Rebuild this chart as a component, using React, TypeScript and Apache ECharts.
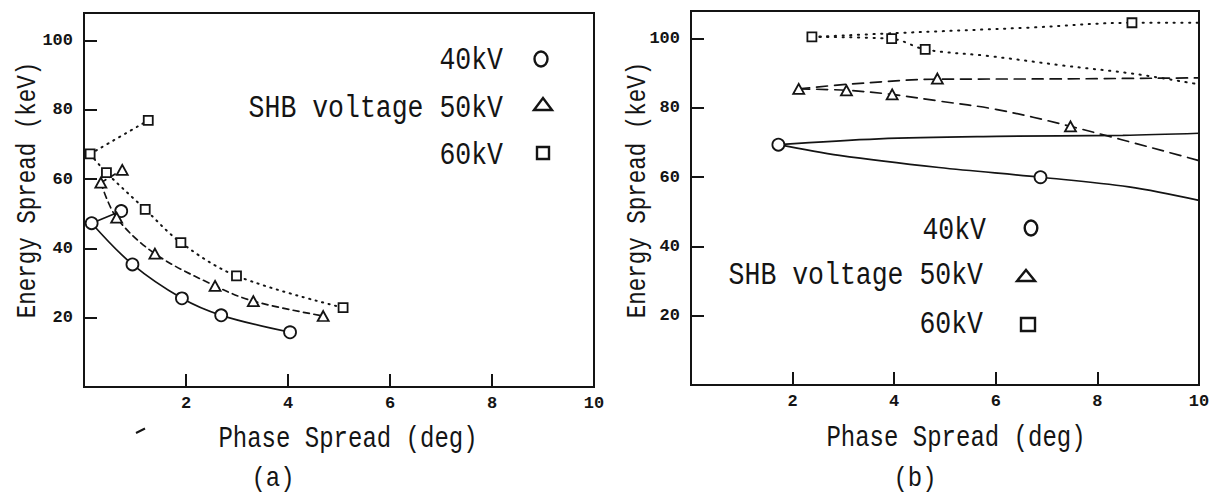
import React, { useEffect, useRef } from 'react';
import * as echarts from 'echarts';

// ---------- axes ----------
const X_MIN = 0;
const X_MAX = 10;
const X_INTERVAL = 2;
const Y_MIN = 0;
const Y_MAX = 108;
const Y_INTERVAL = 20;

// ---------- panel (a) ----------
const a40Markers = [[0.15, 47.3], [0.73, 50.8], [0.95, 35.4], [1.92, 25.6], [2.69, 20.7], [4.04, 15.8]];
const a40Upper = [[0.15, 47.3], [0.73, 50.8]];
const a40Lower = [[0.15, 47.3], [0.95, 35.4], [1.92, 25.6], [2.69, 20.7], [4.04, 15.8]];

const a50Markers = [[0.33, 59.0], [0.75, 62.7], [0.64, 48.9], [1.39, 38.5], [2.57, 29.2], [3.32, 24.8], [4.69, 20.5]];
const a50Upper = [[0.33, 59.0], [0.75, 62.7]];
const a50Lower = [[0.33, 59.0], [0.64, 48.9], [1.39, 38.5], [2.57, 29.2], [3.32, 24.8], [4.69, 20.5]];

const a60Markers = [[0.12, 67.3], [1.26, 77.0], [0.44, 61.9], [1.2, 51.3], [1.9, 41.7], [2.99, 32.1], [5.08, 22.9]];
const a60Upper = [[0.12, 67.3], [1.26, 77.0]];
const a60Lower = [[0.12, 67.3], [0.44, 61.9], [1.2, 51.3], [1.9, 41.7], [2.99, 32.1], [5.08, 22.9]];

// ---------- panel (b) ----------
const b40Markers = [[1.72, 69.4], [6.88, 60.0]];
const b40Upper = [[1.72, 69.4], [3.7, 71.1], [6.02, 71.8], [8.5, 72.1], [10, 72.7]];
const b40Lower = [[1.72, 69.4], [2.92, 66.3], [4.88, 62.8], [6.88, 60.0], [8.62, 57.2], [10, 53.3]];

const b50Markers = [[2.12, 85.5], [3.06, 85.1], [3.96, 83.9], [4.85, 88.5], [7.47, 74.7]];
const b50Upper = [[2.12, 85.5], [3.05, 86.8], [4.85, 88.3], [7.3, 88.4], [10, 88.7]];
const b50Lower = [[2.12, 85.5], [3.06, 85.1], [3.96, 83.9], [4.88, 82.0], [6.0, 79.6], [7.47, 74.7], [10, 64.8]];

const b60Markers = [[2.38, 100.5], [3.95, 100.0], [4.61, 96.9], [8.68, 104.6]];
const b60Upper = [[2.38, 100.5], [4.0, 101.6], [6.65, 103.2], [8.68, 104.6], [10, 104.6]];
const b60Lower = [[2.38, 100.5], [3.95, 100.0], [4.61, 96.9], [5.86, 95.0], [7.3, 92.3], [8.75, 89.8], [10, 86.8]];

// ---------- texts ----------
const legendLabels = ['40kV', 'SHB voltage 50kV', '60kV'];
const xTitle = 'Phase Spread (deg)';
const yTitle = 'Energy Spread (keV)';
const panelLabels = ['(a)', '(b)'];

const INK = '#141414';
const MONO = '"Liberation Mono", "DejaVu Sans Mono", monospace';

function curve(data: number[][], idx: number, dash: any, width = 1.7) {
  return {
    type: 'line',
    xAxisIndex: idx,
    yAxisIndex: idx,
    data,
    smooth: 0.35,
    showSymbol: false,
    symbol: 'none',
    silent: true,
    z: 2,
    lineStyle: { color: INK, width, type: dash, cap: 'round' },
  };
}

function marks(data: number[][], idx: number, symbol: string, size: any) {
  return {
    type: 'scatter',
    xAxisIndex: idx,
    yAxisIndex: idx,
    data,
    symbol,
    symbolSize: size,
    silent: true,
    z: 5,
    itemStyle: { color: '#ffffff', borderColor: INK, borderWidth: 1.8, opacity: 1 },
  };
}

function xAxis(idx: number) {
  return {
    type: 'value',
    gridIndex: idx,
    min: X_MIN,
    max: X_MAX,
    interval: X_INTERVAL,
    axisLine: { show: false },
    splitLine: { show: false },
    axisTick: { show: true, inside: true, length: 13, lineStyle: { color: INK, width: 2 } },
    axisLabel: {
      color: INK,
      fontFamily: MONO,
      fontWeight: 'bold',
      fontSize: 17,
      margin: 8,
      formatter: (v: number) => (v === 0 ? '' : String(v)),
    },
  };
}

function yAxis(idx: number) {
  return {
    type: 'value',
    gridIndex: idx,
    min: Y_MIN,
    max: Y_MAX,
    interval: Y_INTERVAL,
    axisLine: { show: false },
    splitLine: { show: false },
    axisTick: { show: true, inside: true, length: 13, lineStyle: { color: INK, width: 2 } },
    axisLabel: {
      color: INK,
      fontFamily: MONO,
      fontWeight: 'bold',
      fontSize: 17,
      margin: 11,
      formatter: (v: number) => (v > 0 && v % 20 === 0 ? String(v) : ''),
    },
  };
}

function txt(text: string, x: number, y: number, size: number, align = 'center', rotation = 0, sy = 1.2) {
  return {
    type: 'text',
    x,
    y,
    rotation,
    scaleY: sy,
    silent: true,
    z: 10,
    style: {
      text,
      font: `${size}px ${MONO}`,
      fill: INK,
      align,
      verticalAlign: 'middle',
      textAlign: align,
      textVerticalAlign: 'middle',
    },
  };
}

const symStyle = { fill: '#ffffff', stroke: INK, lineWidth: 2.4 };

const option: any = {
  animation: false,
  backgroundColor: '#ffffff',
  grid: [
    { left: 84, top: 13, width: 510, height: 374, show: true, borderColor: INK, borderWidth: 2, backgroundColor: 'transparent' },
    { left: 691, top: 11, width: 508, height: 374, show: true, borderColor: INK, borderWidth: 2, backgroundColor: 'transparent' },
  ],
  xAxis: [xAxis(0), xAxis(1)],
  yAxis: [yAxis(0), yAxis(1)],
  series: [
    curve(a40Upper, 0, 'solid'),
    curve(a40Lower, 0, 'solid'),
    curve(a50Upper, 0, [6, 4.5]),
    curve(a50Lower, 0, [6, 4.5]),
    curve(a60Upper, 0, [1.2, 5.5], 2),
    curve(a60Lower, 0, [1.2, 5.5], 2),
    marks(a40Markers, 0, 'circle', 12),
    marks(a50Markers, 0, 'triangle', [11, 10]),
    marks(a60Markers, 0, 'rect', 9),

    curve(b40Upper, 1, 'solid'),
    curve(b40Lower, 1, 'solid'),
    curve(b50Upper, 1, [11, 7]),
    curve(b50Lower, 1, [11, 7]),
    curve(b60Upper, 1, [1.2, 6.5], 2),
    curve(b60Lower, 1, [1.2, 6.5], 2),
    marks(b40Markers, 1, 'circle', 12),
    marks(b50Markers, 1, 'triangle', [11, 10]),
    marks(b60Markers, 1, 'rect', 9),
  ],
  graphic: [
    // panel (a) legend
    txt(legendLabels[0], 503, 61, 26.5, 'right'),
    txt(legendLabels[1], 503, 109, 26.5, 'right'),
    txt(legendLabels[2], 503, 156, 26.5, 'right'),
    { type: 'ellipse', shape: { cx: 541, cy: 59, rx: 6.5, ry: 7.5 }, style: symStyle, silent: true },
    { type: 'polygon', shape: { points: [[534, 110], [552, 110], [543, 98]] }, style: symStyle, silent: true },
    { type: 'rect', shape: { x: 537, y: 147, width: 12, height: 12 }, style: symStyle, silent: true },
    // panel (b) legend
    txt(legendLabels[0], 986, 231, 26.5, 'right'),
    txt(legendLabels[1], 983, 276, 26.5, 'right'),
    txt(legendLabels[2], 983, 325, 26.5, 'right'),
    { type: 'ellipse', shape: { cx: 1031, cy: 228, rx: 6.3, ry: 7.5 }, style: symStyle, silent: true },
    { type: 'polygon', shape: { points: [[1017, 281], [1035, 281], [1026, 270]] }, style: symStyle, silent: true },
    { type: 'rect', shape: { x: 1021, y: 318, width: 14, height: 13 }, style: symStyle, silent: true },
    // axis titles
    txt(xTitle, 348, 439, 24),
    txt(xTitle, 956, 438, 24),
    txt(yTitle, 27, 190, 22.5, 'center', Math.PI / 2),
    txt(yTitle, 637, 190, 22.5, 'center', Math.PI / 2),
    // panel labels
    txt(panelLabels[0], 273, 479, 24, 'center', 0, 1.15),
    txt(panelLabels[1], 915, 479, 24, 'center', 0, 1.15),
    // stray scan mark
    { type: 'line', shape: { x1: 136, y1: 433, x2: 145, y2: 428.5 }, style: { stroke: INK, lineWidth: 2 }, silent: true },
  ],
};

export default function App() {
  const ref = useRef<HTMLDivElement>(null);
  useEffect(() => {
    if (!ref.current) return;
    const chart = echarts.init(ref.current, null, { renderer: 'svg' });
    chart.setOption(option);
    return () => chart.dispose();
  }, []);
  return (
    <div
      ref={ref}
      style={{ position: 'absolute', left: 0, top: 0, width: 1219, height: 498, background: '#ffffff' }}
    />
  );
}
